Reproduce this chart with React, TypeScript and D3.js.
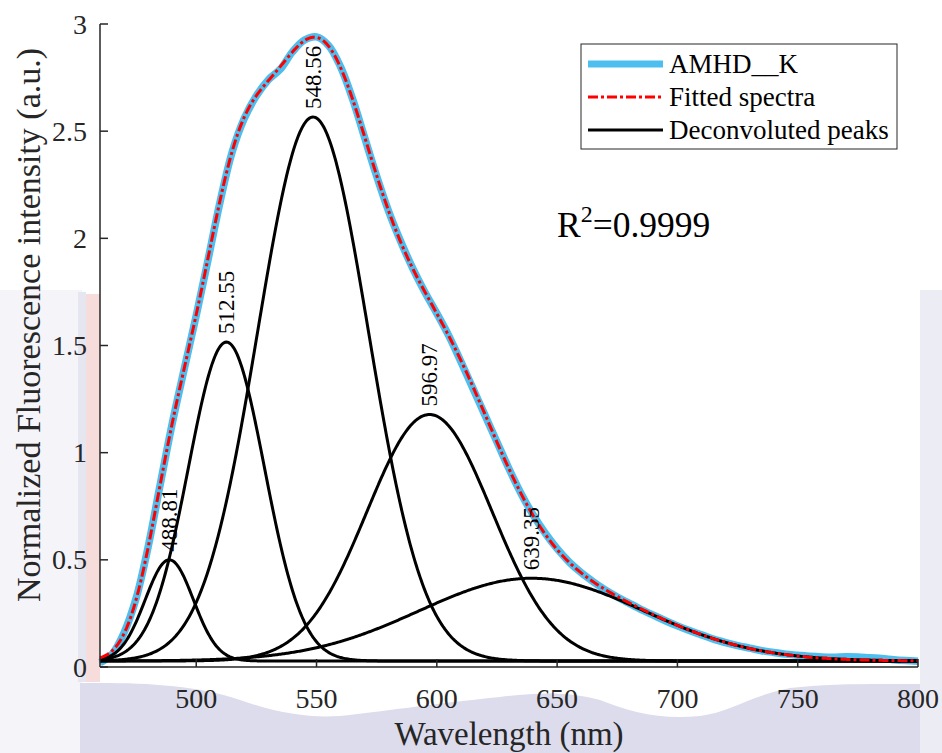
import React from "react";
import * as d3 from "d3";

// ---------- data ----------
const wavelengths = [
  460, 465, 470, 475, 480, 485, 490, 495, 500, 505, 510, 515, 520, 525, 530, 535, 540, 545, 550, 555,
  560, 565, 570, 575, 580, 585, 590, 595, 600, 605, 610, 615, 620, 625, 630, 635, 640, 645, 650, 655,
  660, 665, 670, 675, 680, 685, 690, 695, 700, 705, 710, 715, 720, 725, 730, 735, 740, 745, 750, 755,
  760, 765, 770, 775, 780, 785, 790, 795, 800,
];
const measured = [
  0.02, 0.06, 0.16, 0.32, 0.56, 0.85, 1.135, 1.39, 1.64, 1.905, 2.175, 2.405, 2.56, 2.665, 2.74, 2.79,
  2.87, 2.925, 2.94, 2.9, 2.8, 2.65, 2.47, 2.29, 2.125, 1.985, 1.86, 1.75, 1.65, 1.545, 1.425, 1.3,
  1.175, 1.05, 0.925, 0.81, 0.71, 0.625, 0.552, 0.49, 0.44, 0.398, 0.36, 0.327, 0.297, 0.268, 0.242,
  0.216, 0.192, 0.17, 0.15, 0.13, 0.114, 0.1, 0.088, 0.076, 0.068, 0.06, 0.055, 0.05, 0.047, 0.046,
  0.048, 0.047, 0.043, 0.04, 0.034, 0.03, 0.027,
];
// deconvoluted Gaussian peaks
const peakLabels = ["488.81", "512.55", "548.56", "596.97", "639.35"];
const peakCenters = [488.81, 512.55, 548.56, 596.97, 639.35];
const peakAmplitudes = [0.472, 1.488, 2.538, 1.15, 0.386];
const peakSigmas = [10, 15.8, 23, 26, 46.7];
const baselineOffset = 0.028;

const xTicks = [500, 550, 600, 650, 700, 750, 800];
const yTicks = [0, 0.5, 1, 1.5, 2, 2.5, 3];
const yTickLabels = ["0", "0.5", "1", "1.5", "2", "2.5", "3"];
const legendLabels = ["AMHD__K", "Fitted spectra", "Deconvoluted peaks"];

// ---------- layout ----------
const W = 942;
const H = 753;
const M = { left: 100, right: 918, top: 24, bottom: 667 };
const FONT = "'Liberation Serif', 'Times New Roman', serif";
const BLUE = "#4DBEEE";

export default function App() {
  const x = d3.scaleLinear().domain([460, 800]).range([M.left, M.right]);
  const y = d3.scaleLinear().domain([0, 3]).range([M.bottom, M.top]);

  const fine = d3.range(460, 800.01, 0.5);
  const gauss = (i: number, l: number) =>
    peakAmplitudes[i] * Math.exp(-((l - peakCenters[i]) ** 2) / (2 * peakSigmas[i] ** 2));

  const line = d3
    .line<[number, number]>()
    .x((d) => x(d[0]))
    .y((d) => y(d[1]));
  const smooth = d3
    .line<[number, number]>()
    .x((d) => x(d[0]))
    .y((d) => y(d[1]))
    .curve(d3.curveCatmullRom.alpha(0.5));

  const measuredPath = smooth(wavelengths.map((w, i) => [w, measured[i]]))!;
  const peakPaths = peakCenters.map((_, i) =>
    line(fine.map((l) => [l, baselineOffset + gauss(i, l)]))!
  );
  const fitPath = line(
    fine.map((l) => [l, baselineOffset + peakCenters.reduce((s, _, i) => s + gauss(i, l), 0)])
  )!;

  const wave = "M80,753 L80,683 L100,683 C150,683 200,686 240,700 C280,714 310,718 340,716 C380,712 430,704 500,697 C540,692 570,692 600,700 C630,712 660,720 700,716 C730,712 750,696 790,688 C830,683 880,684 920,684 L920,753 Z";

  const txt = { fontFamily: FONT };

  return (
    <svg
      width={W}
      height={H}
      style={{ position: "absolute", left: 0, top: 0, background: "#fff", fontFamily: FONT }}
    >
      {/* faint watermark outside the axes */}
      <rect x={0} y={290} width={82} height={463} fill="#f4f4f9" />
      <rect x={78} y={292} width={8} height={390} fill="#e6e6f1" />
      <rect x={86} y={294} width={14} height={388} fill="#f7dcdc" />
      <path d={wave} fill="#dcdcec" />
      <rect x={920} y={290} width={22} height={463} fill="#ececf4" />
      <rect x={M.left} y={M.top} width={M.right - M.left} height={M.bottom - M.top} fill="#fff" />

      {/* curves */}
      <defs>
        <clipPath id="clip">
          <rect x={M.left - 4} y={M.top - 10} width={M.right - M.left + 8} height={M.bottom - M.top + 14} />
        </clipPath>
      </defs>
      <g clipPath="url(#clip)">
        <path d={measuredPath} fill="none" stroke={BLUE} strokeWidth={7.5} strokeLinejoin="round" />
        {peakPaths.map((p, i) => (
          <path key={i} d={p} fill="none" stroke="#000" strokeWidth={3} />
        ))}
        <path d={fitPath} fill="none" stroke="#FF0000" strokeWidth={3} strokeDasharray="10,3,3,3" />
      </g>

      {/* peak labels */}
      {peakCenters.map((c, i) => {
        const px = x(c);
        const py = y(baselineOffset + peakAmplitudes[i]) - 8;
        return (
          <text
            key={i}
            transform={`translate(${px},${py}) rotate(-90)`}
            fontSize={23}
            dominantBaseline="central"
            fill="#000"
            style={txt}
          >
            {peakLabels[i]}
          </text>
        );
      })}

      {/* axes */}
      <line x1={M.left} x2={M.left} y1={M.top} y2={M.bottom} stroke="#262626" strokeWidth={1.5} />
      <line x1={M.left} x2={M.right} y1={M.bottom} y2={M.bottom} stroke="#262626" strokeWidth={1.5} />
      {yTicks.map((t, i) => (
        <g key={t}>
          <line x1={M.left} x2={M.left + 8} y1={y(t)} y2={y(t)} stroke="#262626" strokeWidth={1.5} />
          <text x={M.left - 13} y={y(t)} fontSize={28} textAnchor="end" dominantBaseline="central" fill="#262626" style={txt}>
            {yTickLabels[i]}
          </text>
        </g>
      ))}
      {xTicks.map((t) => (
        <g key={t}>
          <line x1={x(t)} x2={x(t)} y1={M.bottom} y2={M.bottom - 8} stroke="#262626" strokeWidth={1.5} />
          <text x={x(t)} y={708} fontSize={28} textAnchor="middle" fill="#262626" style={txt}>
            {t}
          </text>
        </g>
      ))}

      <text x={509} y={745} fontSize={33} textAnchor="middle" fill="#262626" style={txt}>
        Wavelength (nm)
      </text>
      <text
        transform={`translate(40,325) rotate(-90)`}
        fontSize={34}
        textAnchor="middle"
        fill="#262626"
        style={txt}
      >
        Normalized Fluorescence intensity (a.u.)
      </text>

      {/* legend */}
      <rect x={581} y={44} width={316} height={105} fill="#fff" stroke="#262626" strokeWidth={1} />
      {legendLabels.map((lab, i) => {
        const ly = 64 + i * 33;
        return (
          <g key={lab}>
            {i === 0 && <line x1={588} x2={663} y1={ly} y2={ly} stroke={BLUE} strokeWidth={7} />}
            {i === 1 && (
              <line x1={588} x2={663} y1={ly} y2={ly} stroke="#FF0000" strokeWidth={3} strokeDasharray="10,3,3,3" />
            )}
            {i === 2 && <line x1={588} x2={663} y1={ly} y2={ly} stroke="#000" strokeWidth={3} />}
            <text x={669} y={ly} fontSize={27} dominantBaseline="central" fill="#000" style={txt}>
              {lab}
            </text>
          </g>
        );
      })}

      {/* R^2 annotation */}
      <text x={557} y={237} fontSize={35.5} fill="#000" style={txt}>
        R<tspan fontSize={24} dy={-15}>2</tspan>
        <tspan dy={15}>=0.9999</tspan>
      </text>
    </svg>
  );
}
